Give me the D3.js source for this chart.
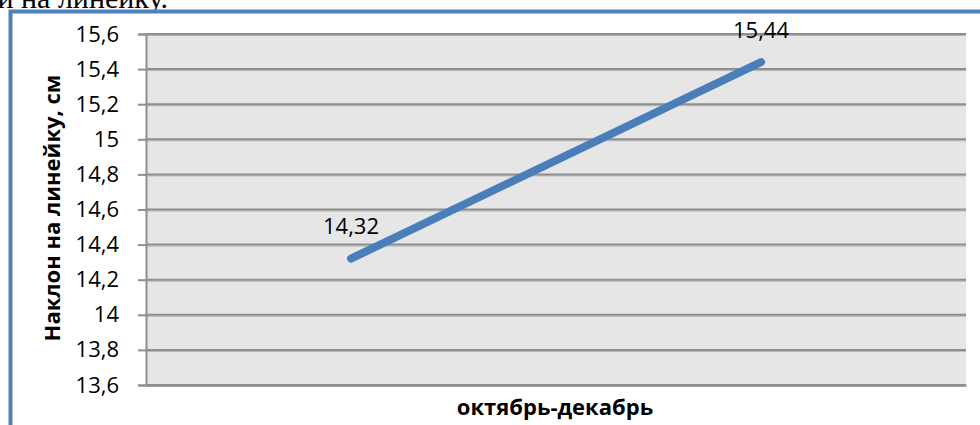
<!DOCTYPE html>
<html>
<head>
<meta charset="utf-8">
<script src="https://cdn.jsdelivr.net/npm/d3@7"></script>
<style>
html,body{margin:0;padding:0;background:#fff;overflow:hidden}
svg{display:block}
</style>
</head>
<body>
<svg id="chart" width="980" height="425"></svg>
<script>
// Data
const categories = ["октябрь", "декабрь"];
const values = [14.32, 15.44];
const yTicks = [13.6, 13.8, 14, 14.2, 14.4, 14.6, 14.8, 15, 15.2, 15.4, 15.6];
const yDomain = [13.6, 15.6];
const xTitle = "октябрь-декабрь";
const yTitle = "Наклон на линейку, см";
const topText = "и на линейку.";

const svg = d3.select("#chart");
const plot = {left: 146, right: 966, top: 34, bottom: 385};

const locale = d3.formatLocale({decimal: ",", thousands: " ", grouping: [3], currency: ["", ""]});
const fmt = locale.format(".2~f");

const x = d3.scaleBand().domain(categories).range([plot.left, plot.right]);
const y = d3.scaleLinear().domain(yDomain).range([plot.bottom, plot.top]);

// cut-off text from the document above (keeps a safe margin from the edge)
svg.append("text")
  .attr("x", 168).attr("y", 8)
  .attr("text-anchor", "end")
  .attr("font-family", "Liberation Serif, serif")
  .attr("font-size", 30)
  .attr("fill", "#000")
  .text(topText);

// blue frame
svg.append("rect")
  .attr("x", 10.5).attr("y", 11.5)
  .attr("width", 1100).attr("height", 600)
  .attr("fill", "#fff")
  .attr("stroke", "#4f81bd")
  .attr("stroke-width", 4);

// plot background
svg.append("rect")
  .attr("x", plot.left).attr("y", plot.top)
  .attr("width", plot.right - plot.left)
  .attr("height", plot.bottom - plot.top)
  .attr("fill", "#e6e6e6");

// gridlines (with light shadow)
const grid = svg.append("g");
grid.selectAll("line.sh").data(yTicks).join("line")
  .attr("class", "sh")
  .attr("x1", plot.left).attr("x2", plot.right)
  .attr("y1", d => y(d) + 1.5).attr("y2", d => y(d) + 1.5)
  .attr("stroke", "#b4b4b4").attr("stroke-width", 1);
grid.selectAll("line.g").data(yTicks).join("line")
  .attr("class", "g")
  .attr("x1", plot.left).attr("x2", plot.right)
  .attr("y1", d => y(d)).attr("y2", d => y(d))
  .attr("stroke", "#8e8e8e").attr("stroke-width", 2);

// y axis
const yAxis = d3.axisLeft(y).tickValues(yTicks).tickFormat(fmt).tickSize(8).tickPadding(19);
const gy = svg.append("g").attr("transform", `translate(${plot.left},0)`).call(yAxis);
gy.select(".domain").attr("stroke", "#8e8e8e").attr("stroke-width", 2);
gy.selectAll(".tick line").attr("stroke", "#8e8e8e").attr("stroke-width", 2);
gy.selectAll(".tick text")
  .attr("font-family", "Open Sans, sans-serif")
  .attr("font-size", 22)
  .attr("fill", "#000");

// x axis (no labels, just baseline)
const xAxis = d3.axisBottom(x).tickSize(0).tickFormat("");
const gx = svg.append("g").attr("transform", `translate(0,${plot.bottom})`).call(xAxis);
gx.select(".domain").attr("stroke", "#8e8e8e").attr("stroke-width", 2);

// line
const pts = categories.map((c, i) => [x(c) + x.bandwidth() / 2, y(values[i])]);
svg.append("path")
  .attr("d", d3.line()(pts))
  .attr("fill", "none")
  .attr("stroke", "#4a7ebb")
  .attr("stroke-width", 8)
  .attr("stroke-linecap", "round");

// data labels
svg.selectAll("text.lbl").data(categories).join("text")
  .attr("class", "lbl")
  .attr("x", d => x(d) + x.bandwidth() / 2)
  .attr("y", (d, i) => y(values[i]) - 24.5)
  .attr("text-anchor", "middle")
  .attr("font-family", "Open Sans, sans-serif")
  .attr("font-size", 22)
  .attr("fill", "#000")
  .text((d, i) => fmt(values[i]));

// axis titles
svg.append("text")
  .attr("x", 555).attr("y", 415)
  .attr("text-anchor", "middle")
  .attr("font-family", "Open Sans, sans-serif")
  .attr("font-weight", "bold")
  .attr("font-size", 22)
  .attr("fill", "#000")
  .text(xTitle);

svg.append("text")
  .attr("transform", `translate(60,208) rotate(-90)`)
  .attr("text-anchor", "middle")
  .attr("font-family", "Open Sans, sans-serif")
  .attr("font-weight", "bold")
  .attr("font-size", 22)
  .attr("fill", "#000")
  .text(yTitle);
</script>
</body>
</html>
